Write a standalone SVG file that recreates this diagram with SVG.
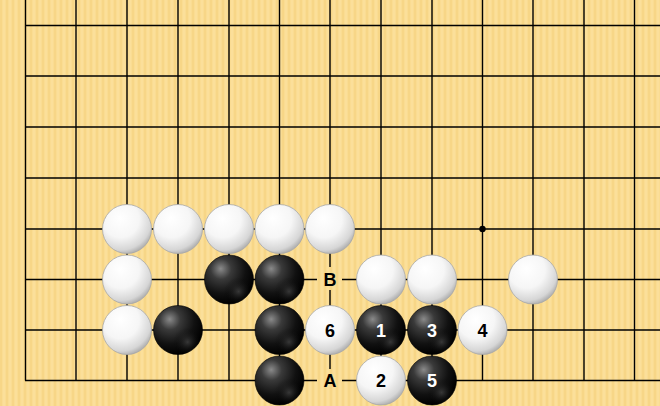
<svg xmlns="http://www.w3.org/2000/svg" width="660" height="406" viewBox="0 0 660 406">
<defs>
<pattern id="wood" patternUnits="userSpaceOnUse" width="6" height="10">
<rect width="6" height="10" fill="#FADC92"/>
<rect x="0" width="2" height="10" fill="#F7D687"/>
<rect x="3.5" width="1" height="10" fill="#FCE2A2"/>
</pattern>
<radialGradient id="gw" cx="0.38" cy="0.32" r="0.75" fx="0.36" fy="0.28">
<stop offset="0" stop-color="#FFFFFF"/>
<stop offset="0.5" stop-color="#F6F6F6"/>
<stop offset="0.82" stop-color="#D6D6D6"/>
<stop offset="1" stop-color="#9E9E9E"/>
</radialGradient>
<radialGradient id="gb" cx="0.35" cy="0.3" r="0.7" fx="0.33" fy="0.28">
<stop offset="0" stop-color="#8A8A8A"/>
<stop offset="0.3" stop-color="#3A3A3A"/>
<stop offset="0.7" stop-color="#111111"/>
<stop offset="1" stop-color="#000000"/>
</radialGradient>
<radialGradient id="gbr" cx="0.7" cy="0.75" r="0.3">
<stop offset="0" stop-color="#555555" stop-opacity="0.6"/>
<stop offset="1" stop-color="#000000" stop-opacity="0"/>
</radialGradient>
<style>
.ln{stroke:#000;stroke-width:1.4;fill:none}
.w{fill:url(#gw);stroke:#A8A8A8;stroke-width:0.8}
.b{fill:url(#gb);stroke:#000;stroke-width:0.6}
.t{font-family:"Liberation Sans",Arial,sans-serif;font-weight:bold;font-size:18px;text-anchor:middle}
.tw{fill:#fff}
.tk{fill:#000}
</style>
</defs>
<rect width="660" height="406" fill="url(#wood)"/>
<g id="grid" class="ln">
<path d="M25.5 0V380.5M76 0V380.5M127 0V380.5M178 0V380.5M229 0V380.5M279.5 0V380.5M330 0V380.5M381 0V380.5M432 0V380.5M482.5 0V380.5M533 0V380.5M584 0V380.5M634.5 0V380.5"/>
<path d="M25.5 25.5H660M25.5 76H660M25.5 127H660M25.5 178H660M25.5 229H660M25.5 279.5H660M25.5 330H660M25 380.5H660"/>
</g>
<circle id="star" cx="482.5" cy="229" r="3.2" fill="#000"/>
<g id="labelB">
<rect x="317" y="267" width="25" height="23" fill="url(#wood)"/>
<text class="t tk" x="330" y="286">B</text>
</g>
<g id="labelA">
<rect x="317" y="369" width="25" height="23" fill="url(#wood)"/>
<text class="t tk" x="330" y="387">A</text>
</g>
<g id="w1"><circle class="w" cx="127" cy="229" r="24.5"/></g>
<g id="w2"><circle class="w" cx="178" cy="229" r="24.5"/></g>
<g id="w3"><circle class="w" cx="229" cy="229" r="24.5"/></g>
<g id="w4"><circle class="w" cx="279.5" cy="229" r="24.5"/></g>
<g id="w5"><circle class="w" cx="330" cy="229" r="24.5"/></g>
<g id="w6"><circle class="w" cx="127" cy="279.5" r="24.5"/></g>
<g id="w7"><circle class="w" cx="381" cy="279.5" r="24.5"/></g>
<g id="w8"><circle class="w" cx="432" cy="279.5" r="24.5"/></g>
<g id="w9"><circle class="w" cx="533" cy="279.5" r="24.5"/></g>
<g id="w10"><circle class="w" cx="127" cy="330" r="24.5"/></g>
<g id="b1"><circle class="b" cx="229" cy="279.5" r="24.5"/><circle cx="229" cy="279.5" r="24" fill="url(#gbr)"/></g>
<g id="b2"><circle class="b" cx="279.5" cy="279.5" r="24.5"/><circle cx="279.5" cy="279.5" r="24" fill="url(#gbr)"/></g>
<g id="b3"><circle class="b" cx="178" cy="330" r="24.5"/><circle cx="178" cy="330" r="24" fill="url(#gbr)"/></g>
<g id="b4"><circle class="b" cx="279.5" cy="330" r="24.5"/><circle cx="279.5" cy="330" r="24" fill="url(#gbr)"/></g>
<g id="b5"><circle class="b" cx="279.5" cy="380.5" r="24.5"/><circle cx="279.5" cy="380.5" r="24" fill="url(#gbr)"/></g>
<g id="m6"><circle class="w" cx="330" cy="330" r="24.5"/><text class="t tk" x="330" y="336.5">6</text></g>
<g id="m1"><circle class="b" cx="381" cy="330" r="24.5"/><circle cx="381" cy="330" r="24" fill="url(#gbr)"/><text class="t tw" x="381" y="336.5">1</text></g>
<g id="m3"><circle class="b" cx="432" cy="330" r="24.5"/><circle cx="432" cy="330" r="24" fill="url(#gbr)"/><text class="t tw" x="432" y="336.5">3</text></g>
<g id="m4"><circle class="w" cx="482.5" cy="330" r="24.5"/><text class="t tk" x="482.5" y="336.5">4</text></g>
<g id="m2"><circle class="w" cx="381" cy="380.5" r="24.5"/><text class="t tk" x="381" y="387">2</text></g>
<g id="m5"><circle class="b" cx="432" cy="380.5" r="24.5"/><circle cx="432" cy="380.5" r="24" fill="url(#gbr)"/><text class="t tw" x="432" y="387">5</text></g>
</svg>
